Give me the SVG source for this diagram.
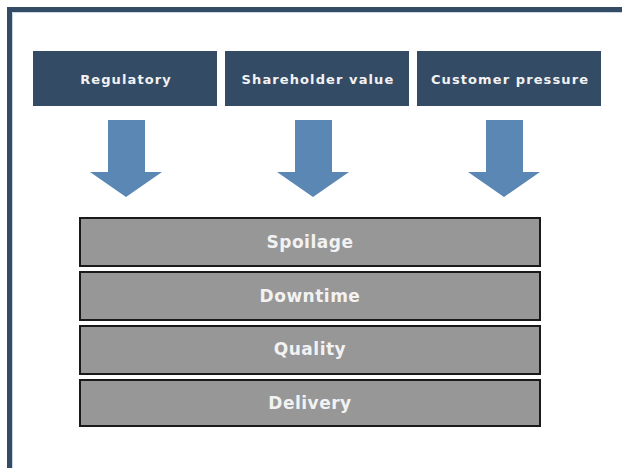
<svg xmlns="http://www.w3.org/2000/svg" width="622" height="468" viewBox="0 0 622 468">
<style>
.hdr{fill:#344b66}
.hdr-t{fill:#f2f2f2;font-family:"DejaVu Sans",sans-serif;font-weight:bold;font-size:13px;text-anchor:middle;letter-spacing:1.1px}
.arr{fill:#5b87b5}
.bar{fill:#979797;stroke:#1a1a1a;stroke-width:2}
.bar-t{fill:#f2f2f2;font-family:"DejaVu Sans",sans-serif;font-weight:bold;font-size:17px;text-anchor:middle;letter-spacing:0.5px}
</style>
<rect width="622" height="468" fill="#ffffff"/>
<g id="frame">
<path d="M9.5,468 V9.5 H622" fill="none" stroke="#344b66" stroke-width="5"/>
<path d="M12.5,468 V12.5 H622" fill="none" stroke="#c9d6e3" stroke-width="1"/>
</g>
<g id="regulatory"><rect class="hdr" x="33" y="51" width="184" height="55"/><text class="hdr-t" x="126" y="84">Regulatory</text></g>
<g id="shareholder"><rect class="hdr" x="225" y="51" width="184" height="55"/><text class="hdr-t" x="318" y="84">Shareholder value</text></g>
<g id="customer"><rect class="hdr" x="417" y="51" width="184" height="55"/><text class="hdr-t" x="510" y="84">Customer pressure</text></g>
<g id="connectors">
<path class="arr" d="M108,120 H145 V172 H162 L126,197 L90,172 H108 Z"/>
<path class="arr" d="M295,120 H332 V172 H349 L313,197 L277,172 H295 Z"/>
<path class="arr" d="M486,120 H523 V172 H540 L504,197 L468,172 H486 Z"/>
</g>
<g id="spoilage"><rect class="bar" x="80" y="218" width="460" height="48"/><text class="bar-t" x="310" y="248">Spoilage</text></g>
<g id="downtime"><rect class="bar" x="80" y="272" width="460" height="48"/><text class="bar-t" x="310" y="302">Downtime</text></g>
<g id="quality"><rect class="bar" x="80" y="326" width="460" height="48"/><text class="bar-t" x="310" y="355">Quality</text></g>
<g id="delivery"><rect class="bar" x="80" y="380" width="460" height="46"/><text class="bar-t" x="310" y="409">Delivery</text></g>
</svg>
